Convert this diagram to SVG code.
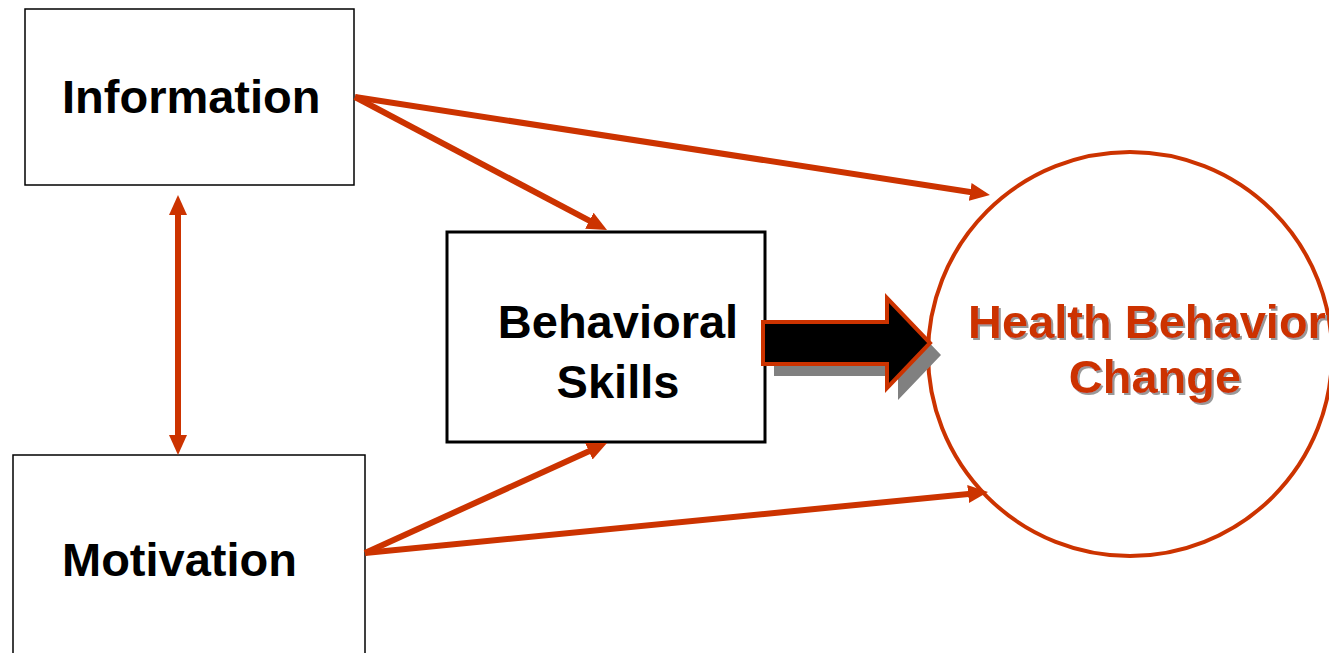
<svg xmlns="http://www.w3.org/2000/svg" width="1329" height="653" viewBox="0 0 1329 653">
<style>
.box{fill:#fff;stroke:#000;stroke-width:1.5}
.lbl{font-family:"Liberation Sans",Arial,sans-serif;font-weight:bold;font-size:47px;fill:#000}
.red{fill:#CC3300}
.con{stroke:#CC3300;stroke-width:6;fill:none}
</style>
<defs>
<marker id="ah" markerUnits="userSpaceOnUse" markerWidth="20" markerHeight="18" refX="8" refY="9" orient="auto-start-reverse" viewBox="0 0 20 18">
<path d="M0,0 L20,9 L0,18 z" fill="#CC3300"/>
</marker>
<filter id="sh" x="-5%" y="-20%" width="110%" height="140%">
<feDropShadow dx="2" dy="2" stdDeviation="0.6" flood-color="#999" flood-opacity="1"/>
</filter>
</defs>
<rect width="1329" height="653" fill="#fff"/>
<g id="information">
<rect class="box" x="25" y="9" width="329" height="176"/>
<text class="lbl" x="62" y="113">Information</text>
</g>
<g id="motivation">
<rect class="box" x="13" y="455" width="352" height="210"/>
<text class="lbl" x="62" y="576">Motivation</text>
</g>
<g id="behavioral-skills">
<rect class="box" x="447" y="232" width="318" height="210" style="stroke-width:3"/>
<text class="lbl" x="618" y="338" text-anchor="middle">Behavioral</text>
<text class="lbl" x="618" y="398" text-anchor="middle">Skills</text>
</g>
<g id="health-behavior-change">
<circle cx="1130" cy="354" r="202" fill="none" stroke="#CC3300" stroke-width="4"/>
<g filter="url(#sh)">
<text class="lbl red" x="1147" y="338" text-anchor="middle">Health Behavior</text>
<text class="lbl red" x="1155" y="393" text-anchor="middle">Change</text>
</g>
</g>
<g id="connectors">
<line class="con" x1="355" y1="97" x2="978.1" y2="193.2" marker-end="url(#ah)"/>
<line class="con" x1="355" y1="97" x2="596.4" y2="224.4" marker-end="url(#ah)"/>
<line class="con" x1="365" y1="553" x2="596.1" y2="448" marker-end="url(#ah)"/>
<line class="con" x1="365" y1="553" x2="976.1" y2="493.2" marker-end="url(#ah)"/>
<line class="con" x1="178" y1="207" x2="178" y2="443" marker-start="url(#ah)" marker-end="url(#ah)"/>
<g id="big-arrow">
<polygon points="774,334 898,334 898,310 941,355 898,400 898,376 774,376" fill="#808080"/>
<polygon points="763,322 887,322 887,298 930,343 887,388 887,364 763,364" fill="#000" stroke="#CC3300" stroke-width="4"/>
</g>
</g>
</svg>
